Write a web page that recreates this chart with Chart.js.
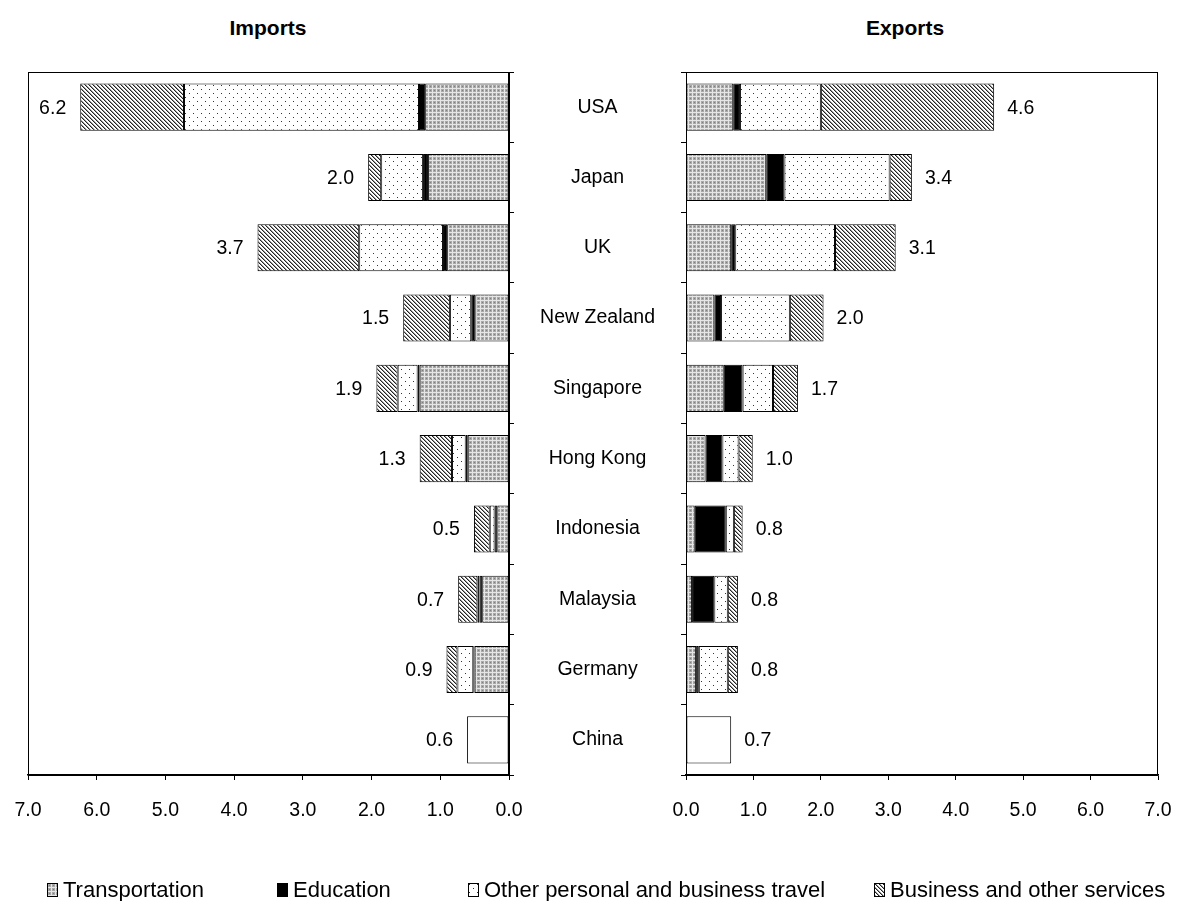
<!DOCTYPE html>
<html>
<head>
<meta charset="utf-8">
<title>Services trade by partner</title>
<script src="https://cdn.jsdelivr.net/npm/chart.js"></script>
<style>
  body { margin: 0; background: #fff; font-family: "Liberation Sans", Arial, sans-serif; color: #000; }
  #wrap { position: relative; width: 1179px; height: 901px; overflow: hidden; }
  #wrap canvas.chart { position: absolute; top: 0; }
  #importsChart { left: 0; }
  #exportsChart { left: 540px; }
  .title { position: absolute; top: 16px; font-weight: bold; font-size: 21px; transform: translateX(-50%); white-space: nowrap; }
  #legend .item { position: absolute; top: 877px; white-space: nowrap; font-size: 22px; line-height: 26px; display: flex; align-items: center; }
  #legend canvas { margin-right: 5px; }
</style>
</head>
<body>
<div id="wrap">
  <div class="title" style="left:268px">Imports</div>
  <div class="title" style="left:905px">Exports</div>
  <canvas id="importsChart" class="chart" width="540" height="901"></canvas>
  <canvas id="exportsChart" class="chart" width="639" height="901"></canvas>
  <div id="legend"></div>
</div>
<script>
// data (values in $ billion)
const categories = ['USA', 'Japan', 'UK', 'New Zealand', 'Singapore', 'Hong Kong', 'Indonesia', 'Malaysia', 'Germany', 'China'];
const seriesNames = ['Transportation', 'Education', 'Other personal and business travel', 'Business and other services'];

const importsTransport = [1.22, 1.18, 0.90, 0.49, 1.30, 0.60, 0.17, 0.39, 0.50, null];
const importsEducation = [0.09, 0.07, 0.06, 0.06, 0.03, 0.03, 0.04, 0.04, 0.02, null];
const importsTravel    = [3.42, 0.61, 1.22, 0.31, 0.29, 0.20, 0.07, 0.03, 0.23, null];
const importsBusiness  = [1.51, 0.19, 1.48, 0.68, 0.31, 0.47, 0.23, 0.28, 0.16, null];
const importsNoSplit   = [null, null, null, null, null, null, null, null, null, 0.61];
const importsTotals    = [6.2, 2.0, 3.7, 1.5, 1.9, 1.3, 0.5, 0.7, 0.9, 0.6];

const exportsTransport = [0.70, 1.19, 0.67, 0.42, 0.56, 0.29, 0.13, 0.09, 0.15, null];
const exportsEducation = [0.10, 0.27, 0.06, 0.10, 0.28, 0.25, 0.46, 0.33, 0.04, null];
const exportsTravel    = [1.20, 1.56, 1.48, 1.02, 0.45, 0.24, 0.12, 0.20, 0.43, null];
const exportsBusiness  = [2.57, 0.33, 0.90, 0.50, 0.37, 0.21, 0.13, 0.15, 0.15, null];
const exportsNoSplit   = [null, null, null, null, null, null, null, null, null, 0.67];
const exportsTotals    = [4.6, 3.4, 3.1, 2.0, 1.7, 1.0, 0.8, 0.8, 0.8, 0.7];

const axisTicks = [0, 1, 2, 3, 4, 5, 6, 7];

const FONT = '"Liberation Sans", Arial, sans-serif';

// little tiles for the fill patterns
function tile(w, h, draw) {
  const c = document.createElement('canvas');
  c.width = w; c.height = h;
  const g = c.getContext('2d');
  draw(g);
  return c;
}
function px(g, x, y, col) { g.fillStyle = col; g.fillRect(x, y, 1, 1); }

const transportTile = tile(4, 4, g => {
  g.fillStyle = '#a8a8a8'; g.fillRect(0, 0, 4, 4);
  for (let i = 0; i < 4; i++) { px(g, 0, i, '#e6e6e6'); px(g, i, 0, '#e6e6e6'); }
  px(g, 2, 2, '#808080');
});
const travelTile = tile(8, 8, g => {
  g.fillStyle = '#fff'; g.fillRect(0, 0, 8, 8);
  px(g, 1, 1, '#333'); px(g, 5, 5, '#333');
});
const businessTile = tile(4, 4, g => {
  g.fillStyle = '#fff'; g.fillRect(0, 0, 4, 4);
  for (let i = 0; i < 4; i++) { px(g, i, i, '#222'); px(g, (i + 1) % 4, i, '#9a9a9a'); }
});

function fills(ctx) {
  return [
    ctx.createPattern(transportTile, 'repeat'),
    '#000',
    ctx.createPattern(travelTile, 'repeat'),
    ctx.createPattern(businessTile, 'repeat')
  ];
}

function makeDatasets(ctx, series, noSplit) {
  const f = fills(ctx);
  const sets = series.map((d, i) => ({ label: seriesNames[i], data: d, backgroundColor: f[i] }));
  sets.push({ label: 'Not split', data: noSplit, backgroundColor: '#fff' });
  return sets.map(d => Object.assign(d, {
    borderColor: '#000', borderWidth: 1, borderSkipped: false,
    barPercentage: 0.67, categoryPercentage: 1
  }));
}

// box round the plot area
const frame = {
  id: 'frame',
  afterDraw(chart) {
    const { ctx, chartArea: a } = chart;
    ctx.save();
    ctx.strokeStyle = '#000';
    ctx.lineWidth = 1;
    ctx.strokeRect(Math.round(a.left) + 0.5, Math.round(a.top) + 0.5, Math.round(a.width) - 1, Math.round(a.height));
    ctx.restore();
  }
};

// total printed at the end of each bar
function totalLabels(totals, side, gap) {
  return {
    id: 'totalLabels',
    afterDatasetsDraw(chart) {
      const { ctx, scales: { x, y } } = chart;
      ctx.save();
      ctx.font = '19.5px ' + FONT;
      ctx.fillStyle = '#000';
      ctx.textBaseline = 'middle';
      ctx.textAlign = side === 'left' ? 'right' : 'left';
      totals.forEach((t, i) => {
        let end = 0;
        chart.data.datasets.forEach(ds => { end += ds.data[i] || 0; });
        const xp = x.getPixelForValue(end) + (side === 'left' ? -gap : gap);
        ctx.fillText(t.toFixed(1), xp, y.getPixelForValue(i) + 1);
      });
      ctx.restore();
    }
  };
}

// tall line height pushes the tick labels down without widening the side padding
function xAxis(reverse) {
  return {
    type: 'linear', stacked: true, reverse: reverse, min: 0, max: 7,
    afterBuildTicks: s => { s.ticks = axisTicks.map(v => ({ value: v })); },
    ticks: { color: '#000', font: { size: 19.5, family: FONT, lineHeight: 2.8 }, padding: 3, maxRotation: 0, callback: v => v.toFixed(1) },
    grid: { drawOnChartArea: false, tickLength: 5, color: '#000' },
    border: { display: true, color: '#000', width: 1.5 },
    afterFit: s => { s.height = 66; }
  };
}

function makeChart(id, series, noSplit, totals, isImports) {
  const canvas = document.getElementById(id);
  const ctx = canvas.getContext('2d');
  const yAxis = isImports ? {
    position: 'right', stacked: true,
    ticks: { display: false },
    grid: { drawOnChartArea: false, tickLength: 5, color: '#000' },
    border: { display: true, color: '#000' }
  } : {
    position: 'left', stacked: true,
    ticks: { color: '#000', font: { size: 19.5, family: FONT }, crossAlign: 'center', padding: 26 },
    grid: { drawOnChartArea: false, tickLength: 5, color: '#000' },
    border: { display: true, color: '#000' },
    afterFit: s => { s.width = 146; }
  };
  return new Chart(ctx, {
    type: 'bar',
    data: { labels: categories, datasets: makeDatasets(ctx, series, noSplit) },
    options: {
      indexAxis: 'y',
      responsive: false,
      animation: false,
      devicePixelRatio: 1,
      layout: { padding: isImports ? { left: 28, right: 26, top: 72, bottom: 60 } : { left: 0, right: 21, top: 72, bottom: 60 } },
      scales: { x: xAxis(isImports), y: yAxis },
      plugins: { legend: { display: false }, tooltip: { enabled: false }, title: { display: false } }
    },
    plugins: [frame, totalLabels(totals, isImports ? 'left' : 'right', isImports ? 14 : 13)]
  });
}

makeChart('importsChart', [importsTransport, importsEducation, importsTravel, importsBusiness], importsNoSplit, importsTotals, true);
makeChart('exportsChart', [exportsTransport, exportsEducation, exportsTravel, exportsBusiness], exportsNoSplit, exportsTotals, false);

// legend along the bottom, swatches use the same tiles
const legendLeft = [47, 277, 468, 874];
const legendTiles = [transportTile, null, travelTile, businessTile];
const legend = document.getElementById('legend');
seriesNames.forEach((name, i) => {
  const item = document.createElement('div');
  item.className = 'item';
  item.style.left = legendLeft[i] + 'px';
  const sw = document.createElement('canvas');
  sw.width = 11; sw.height = 14;
  const g = sw.getContext('2d');
  g.fillStyle = legendTiles[i] ? g.createPattern(legendTiles[i], 'repeat') : '#000';
  g.fillRect(0, 0, 11, 14);
  g.strokeStyle = '#000';
  g.strokeRect(0.5, 0.5, 10, 13);
  item.appendChild(sw);
  const label = document.createElement('span');
  label.textContent = name;
  item.appendChild(label);
  legend.appendChild(item);
});
</script>
</body>
</html>
